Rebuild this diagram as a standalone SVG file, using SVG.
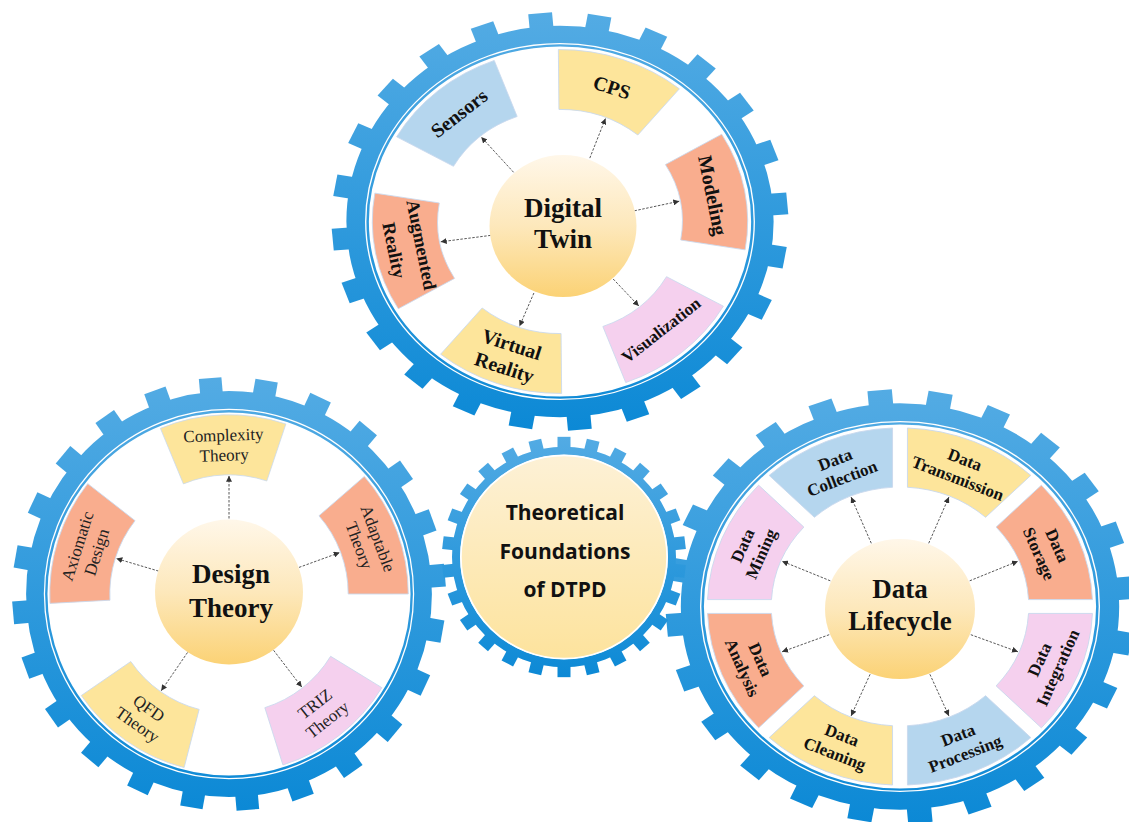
<svg xmlns="http://www.w3.org/2000/svg" xmlns:xlink="http://www.w3.org/1999/xlink" width="1129" height="822" viewBox="0 0 1129 822">
<style>
.blue{fill:#b5d6ee}.yel{fill:#fde59b}.sal{fill:#f9ad8e}.pink{fill:#f5d0ee}
.box{stroke:#c9d9ee;stroke-width:0.8}
.lb{font-family:"Liberation Serif","Times New Roman",serif;font-weight:bold;fill:#111;text-anchor:middle}
.lr{font-family:"Liberation Serif","Times New Roman",serif;font-weight:normal;fill:#222;text-anchor:middle}
.ctr{font-family:"Open Sans","Noto Sans",sans-serif;font-weight:bold;fill:#111;text-anchor:middle}
.arr{stroke:#444;stroke-width:0.9;stroke-dasharray:2.5 1.5;fill:none;marker-end:url(#ah)}
</style>
<defs>
<linearGradient id="gGrad" x1="0" y1="0" x2="0" y2="1"><stop offset="0" stop-color="#55ace4"/><stop offset="1" stop-color="#0a88d5"/></linearGradient>
<linearGradient id="yg" x1="0" y1="0" x2="0" y2="1"><stop offset="0" stop-color="#fff7e9"/><stop offset="0.5" stop-color="#fde8bb"/><stop offset="1" stop-color="#fbd275"/></linearGradient>
<linearGradient id="yc" x1="0" y1="0" x2="0" y2="1"><stop offset="0" stop-color="#fdf1d6"/><stop offset="1" stop-color="#fde39d"/></linearGradient>
<marker id="ah" markerUnits="userSpaceOnUse" markerWidth="6" markerHeight="6" refX="6" refY="3" orient="auto"><path d="M0,0 L6,3 L0,6 Z" fill="#333"/></marker>
<rect id="tooth" x="203" y="-11.5" width="17" height="23" fill="#fff"/>
<rect id="toothS" x="110" y="-6.5" width="12" height="13" fill="#fff"/>
<mask id="mBig" maskUnits="userSpaceOnUse" x="-240" y="-240" width="480" height="480">
<circle r="197" fill="none" stroke="#fff" stroke-width="18"/>
<circle r="185.5" fill="none" stroke="#fff" stroke-width="2.4"/>
<use href="#tooth" transform="rotate(-5)"/><use href="#tooth" transform="rotate(10)"/><use href="#tooth" transform="rotate(25)"/><use href="#tooth" transform="rotate(40)"/><use href="#tooth" transform="rotate(55)"/><use href="#tooth" transform="rotate(70)"/><use href="#tooth" transform="rotate(85)"/><use href="#tooth" transform="rotate(100)"/><use href="#tooth" transform="rotate(115)"/><use href="#tooth" transform="rotate(130)"/><use href="#tooth" transform="rotate(145)"/><use href="#tooth" transform="rotate(160)"/><use href="#tooth" transform="rotate(175)"/><use href="#tooth" transform="rotate(190)"/><use href="#tooth" transform="rotate(205)"/><use href="#tooth" transform="rotate(220)"/><use href="#tooth" transform="rotate(235)"/><use href="#tooth" transform="rotate(250)"/><use href="#tooth" transform="rotate(265)"/><use href="#tooth" transform="rotate(280)"/><use href="#tooth" transform="rotate(295)"/><use href="#tooth" transform="rotate(310)"/><use href="#tooth" transform="rotate(325)"/><use href="#tooth" transform="rotate(340)"/>
</mask>
<mask id="mSmall" maskUnits="userSpaceOnUse" x="-130" y="-130" width="260" height="260">
<circle r="108" fill="none" stroke="#fff" stroke-width="8"/>
<use href="#toothS" transform="rotate(-90)"/><use href="#toothS" transform="rotate(-76.15)"/><use href="#toothS" transform="rotate(-62.31)"/><use href="#toothS" transform="rotate(-48.46)"/><use href="#toothS" transform="rotate(-34.62)"/><use href="#toothS" transform="rotate(-20.77)"/><use href="#toothS" transform="rotate(-6.92)"/><use href="#toothS" transform="rotate(6.92)"/><use href="#toothS" transform="rotate(20.77)"/><use href="#toothS" transform="rotate(34.62)"/><use href="#toothS" transform="rotate(48.46)"/><use href="#toothS" transform="rotate(62.31)"/><use href="#toothS" transform="rotate(76.15)"/><use href="#toothS" transform="rotate(90)"/><use href="#toothS" transform="rotate(103.85)"/><use href="#toothS" transform="rotate(117.69)"/><use href="#toothS" transform="rotate(131.54)"/><use href="#toothS" transform="rotate(145.38)"/><use href="#toothS" transform="rotate(159.23)"/><use href="#toothS" transform="rotate(173.08)"/><use href="#toothS" transform="rotate(186.92)"/><use href="#toothS" transform="rotate(200.77)"/><use href="#toothS" transform="rotate(214.62)"/><use href="#toothS" transform="rotate(228.46)"/><use href="#toothS" transform="rotate(242.31)"/><use href="#toothS" transform="rotate(256.15)"/>
</mask>
<path id="boxT" d="M110.88,-40.36 L170.09,-61.90 A181,181 0 0 1 170.09,61.90 L110.88,40.36 A118,118 0 0 0 110.88,-40.36 Z"/>
<path id="boxL" d="M113.34,-42.37 L170.48,-63.74 A182,182 0 0 1 170.48,63.74 L113.34,42.37 A121,121 0 0 0 113.34,-42.37 Z"/>
<path id="boxR" d="M114.28,-39.76 L169.78,-62.75 A181,181 0 0 1 169.78,62.75 L114.28,39.76 A121,121 0 0 0 114.28,-39.76 Z"/>
</defs>
<rect width="1129" height="822" fill="#fff"/>

<!-- gears -->
<g id="gear-top" transform="translate(560,221.5) scale(1.037,0.95)"><rect x="-230" y="-230" width="460" height="460" fill="url(#gGrad)" mask="url(#mBig)"/></g>
<g id="gear-left" transform="translate(229,594) scale(0.985)"><rect x="-230" y="-230" width="460" height="460" fill="url(#gGrad)" mask="url(#mBig)"/></g>
<g id="gear-right" transform="translate(900,606.5) scale(1.064,0.987)"><rect x="-230" y="-230" width="460" height="460" fill="url(#gGrad)" mask="url(#mBig)"/></g>
<g id="gear-center" transform="translate(564,557) scale(1,0.985)"><rect x="-130" y="-130" width="260" height="260" fill="url(#gGrad)" mask="url(#mSmall)"/></g>

<!-- Digital Twin boxes -->
<g id="node-sensors"><use href="#boxT" class="blue box" transform="translate(560,221.5) scale(1.037,0.95) rotate(-130.5)"/><text class="lb" font-size="20" transform="translate(459,113.1) rotate(-38)" y="7">Sensors</text></g>
<g id="node-cps"><use href="#boxT" class="yel box" transform="translate(560,221.5) scale(1.037,0.95) rotate(-70.5)"/><text class="lb" font-size="20" transform="translate(611.9,87.2) rotate(18)" y="7">CPS</text></g>
<g id="node-modeling"><use href="#boxT" class="sal box" transform="translate(560,221.5) scale(1.037,0.95) rotate(-10.5)"/><text class="lb" font-size="20" transform="translate(712.9,195.5) rotate(78.6)" y="7">Modeling</text></g>
<g id="node-visualization"><use href="#boxT" class="pink box" transform="translate(560,221.5) scale(1.037,0.95) rotate(49.5)"/><text class="lb" font-size="17" transform="translate(661,329.9) rotate(-38)" y="6">Visualization</text></g>
<g id="node-virtual-reality"><use href="#boxT" class="yel box" transform="translate(560,221.5) scale(1.037,0.95) rotate(109.5)"/><text class="lb" font-size="20" transform="translate(508.1,355.8) rotate(18)"><tspan x="0" y="-5">Virtual</tspan><tspan x="0" y="19">Reality</tspan></text></g>
<g id="node-augmented-reality"><use href="#boxT" class="sal box" transform="translate(560,221.5) scale(1.037,0.95) rotate(169.5)"/><text class="lb" font-size="18.5" transform="translate(408,247.5) rotate(78.6)"><tspan x="0" y="-7.5">Augmented</tspan><tspan x="0" y="20.5">Reality</tspan></text></g>

<!-- Design Theory boxes -->
<g id="node-complexity"><use href="#boxL" class="yel box" transform="translate(229,594) scale(0.985) rotate(-92)"/><text class="lr" font-size="17" transform="translate(223.8,444.9) rotate(-2)"><tspan x="0" y="-4">Complexity</tspan><tspan x="0" y="16">Theory</tspan></text></g>
<g id="node-adaptable"><use href="#boxL" class="sal box" transform="translate(229,594) scale(0.985) rotate(-20.5)"/><text class="lr" font-size="17" transform="translate(368.8,541.8) rotate(69.5)"><tspan x="0" y="-4">Adaptable</tspan><tspan x="0" y="16">Theory</tspan></text></g>
<g id="node-triz"><use href="#boxL" class="pink box" transform="translate(229,594) scale(0.985) rotate(52)"/><text class="lr" font-size="17" transform="translate(320.9,711.6) rotate(-38)"><tspan x="0" y="-4">TRIZ</tspan><tspan x="0" y="16">Theory</tspan></text></g>
<g id="node-qfd"><use href="#boxL" class="yel box" transform="translate(229,594) scale(0.985) rotate(125)"/><text class="lr" font-size="17" transform="translate(143.4,716.2) rotate(35)"><tspan x="0" y="-4">QFD</tspan><tspan x="0" y="16">Theory</tspan></text></g>
<g id="node-axiomatic"><use href="#boxL" class="sal box" transform="translate(229,594) scale(0.985) rotate(197.5)"/><text class="lr" font-size="17" transform="translate(86.7,549.1) rotate(-72.5)"><tspan x="0" y="-4">Axiomatic</tspan><tspan x="0" y="16">Design</tspan></text></g>

<!-- Data Lifecycle boxes -->
<g id="node-collection"><use href="#boxR" class="blue box" transform="translate(900,606.5) scale(1.064,0.987) rotate(-112.5)"/><text class="lb" font-size="17" transform="translate(838.5,468.8) rotate(-21)"><tspan x="0" y="-4">Data</tspan><tspan x="0" y="16">Collection</tspan></text></g>
<g id="node-transmission"><use href="#boxR" class="yel box" transform="translate(900,606.5) scale(1.064,0.987) rotate(-67.5)"/><text class="lb" font-size="17" transform="translate(961.5,468.8) rotate(21)"><tspan x="0" y="-4">Data</tspan><tspan x="0" y="16">Transmission</tspan></text></g>
<g id="node-storage"><use href="#boxR" class="sal box" transform="translate(900,606.5) scale(1.064,0.987) rotate(-22.5)"/><text class="lb" font-size="17" transform="translate(1048.4,549.5) rotate(65.9)"><tspan x="0" y="-4">Data</tspan><tspan x="0" y="16">Storage</tspan></text></g>
<g id="node-integration"><use href="#boxR" class="pink box" transform="translate(900,606.5) scale(1.064,0.987) rotate(22.5)"/><text class="lb" font-size="17" transform="translate(1048.4,663.5) rotate(-65.9)"><tspan x="0" y="-4">Data</tspan><tspan x="0" y="16">Integration</tspan></text></g>
<g id="node-processing"><use href="#boxR" class="blue box" transform="translate(900,606.5) scale(1.064,0.987) rotate(67.5)"/><text class="lb" font-size="17" transform="translate(961.5,744.2) rotate(-21)"><tspan x="0" y="-4">Data</tspan><tspan x="0" y="16">Processing</tspan></text></g>
<g id="node-cleaning"><use href="#boxR" class="yel box" transform="translate(900,606.5) scale(1.064,0.987) rotate(112.5)"/><text class="lb" font-size="17" transform="translate(838.5,744.2) rotate(21)"><tspan x="0" y="-4">Data</tspan><tspan x="0" y="16">Cleaning</tspan></text></g>
<g id="node-analysis"><use href="#boxR" class="sal box" transform="translate(900,606.5) scale(1.064,0.987) rotate(157.5)"/><text class="lb" font-size="17" transform="translate(751.6,663.5) rotate(65.9)"><tspan x="0" y="-4">Data</tspan><tspan x="0" y="16">Analysis</tspan></text></g>
<g id="node-mining"><use href="#boxR" class="pink box" transform="translate(900,606.5) scale(1.064,0.987) rotate(202.5)"/><text class="lb" font-size="17" transform="translate(751.6,549.5) rotate(-65.9)"><tspan x="0" y="-4">Data</tspan><tspan x="0" y="16">Mining</tspan></text></g>

<!-- connectors -->
<g id="connectors">
<path class="arr" d="M513.6,172.3 L481.2,137.0"/>
<path class="arr" d="M589.8,158.1 L605.5,118.4"/>
<path class="arr" d="M634.4,210.8 L679.3,201.2"/>
<path class="arr" d="M613.2,279.0 L638.8,306.0"/>
<path class="arr" d="M533.9,293.0 L519.5,326.3"/>
<path class="arr" d="M490.6,235.4 L440.7,241.8"/>
<path class="arr" d="M229,518.5 L229,475.8"/>
<path class="arr" d="M299.0,567.4 L339.7,552.6"/>
<path class="arr" d="M273.6,650.3 L301.8,687.1"/>
<path class="arr" d="M187.5,652.5 L161.2,690.8"/>
<path class="arr" d="M158.6,571.1 L116.3,558.5"/>
<path class="arr" d="M871.3,543.3 L851.1,497.1"/>
<path class="arr" d="M928.7,543.3 L948.9,497.1"/>
<path class="arr" d="M969.7,580.8 L1018.0,561.2"/>
<path class="arr" d="M970.8,634.7 L1018.0,651.8"/>
<path class="arr" d="M929.9,674.3 L948.9,715.9"/>
<path class="arr" d="M870.1,674.3 L851.1,715.9"/>
<path class="arr" d="M829.2,634.7 L782.0,651.8"/>
<path class="arr" d="M830.3,580.8 L782.0,561.2"/>
</g>

<!-- hub nodes -->
<g id="node-digital-twin"><ellipse cx="563" cy="226" rx="73.5" ry="71" fill="url(#yg)"/><text class="lb" font-size="27"><tspan x="563" y="217">Digital</tspan><tspan x="563" y="248">Twin</tspan></text></g>
<g id="node-design-theory"><ellipse cx="229" cy="592" rx="74" ry="72.5" fill="url(#yg)"/><text class="lb" font-size="27"><tspan x="231" y="583">Design</tspan><tspan x="231" y="617">Theory</tspan></text></g>
<g id="node-data-lifecycle"><ellipse cx="900" cy="609" rx="75" ry="70" fill="url(#yg)"/><text class="lb" font-size="27"><tspan x="900" y="598">Data</tspan><tspan x="900" y="630">Lifecycle</tspan></text></g>
<g id="node-foundations"><ellipse cx="564" cy="557" rx="103" ry="101.5" fill="url(#yc)" stroke="#fff" stroke-width="1.5"/><text class="ctr" font-size="21"><tspan x="565" y="520">Theoretical</tspan><tspan x="565" y="558.5">Foundations</tspan><tspan x="565" y="597">of DTPD</tspan></text></g>
</svg>
